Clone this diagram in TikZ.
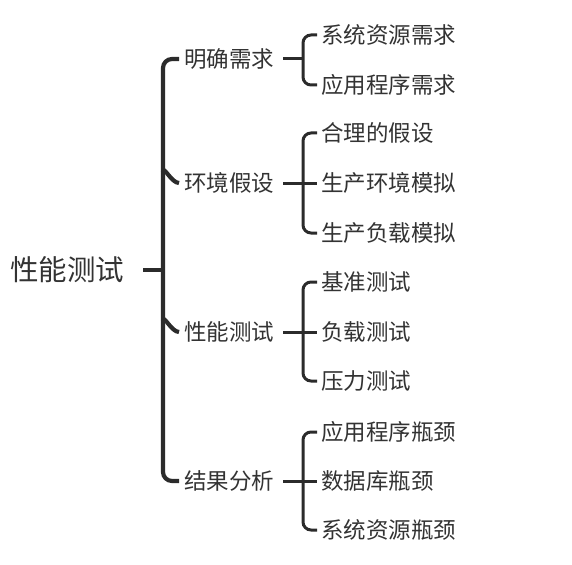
\documentclass[tikz,border=0pt]{standalone}
\usepackage{fontspec}
\setmainfont{Noto Sans CJK SC}
\definecolor{ink}{HTML}{2B2B2B}
\definecolor{txt}{HTML}{333333}
\begin{document}
\begin{tikzpicture}[x=1pt,y=-1pt,
  rootlbl/.style={anchor=west,inner sep=0pt,text=txt,font=\fontsize{28.5}{30}\selectfont},
  lvlone/.style={anchor=west,inner sep=0pt,text=txt,font=\fontsize{22.5}{24}\selectfont},
  lvltwo/.style={anchor=west,inner sep=0pt,text=txt,font=\fontsize{22.5}{24}\selectfont},
  thickln/.style={draw=ink,line width=4.2pt,rounded corners=9pt},
  thinln/.style={draw=ink,line width=3pt,rounded corners=8pt}]
\useasboundingbox (0,0) rectangle (572,564);
% root
\node[rootlbl] (root) at (10,270) {性能测试};
\coordinate (rs) at (143,270);
\coordinate (rv) at (163,270);
\draw[thickln] (rs) -- (rv);
% level one labels
\node[lvlone] (a) at (184,59) {明确需求};
\node[lvlone] (b) at (184,183) {环境假设};
\node[lvlone] (c) at (184,332) {性能测试};
\node[lvlone] (d) at (184,481) {结果分析};
% root bracket
\coordinate (ta) at (179,59);
\coordinate (td) at (179,481);
\draw[thickln] (ta) -- (163,59) -- (163,481) -- (td);
\coordinate (tb) at (179,183);
\coordinate (tc) at (179,332);
\draw[draw=ink,line width=4.2pt] (163,172) to[out=90,in=180,looseness=1] (tb);
\draw[draw=ink,line width=4.2pt] (163,321) to[out=90,in=180,looseness=1] (tc);
% level two labels
\node[lvltwo] (a1) at (321,35) {系统资源需求};
\node[lvltwo] (a2) at (321,85) {应用程序需求};
\node[lvltwo] (b1) at (321,133) {合理的假设};
\node[lvltwo] (b2) at (321,183) {生产环境模拟};
\node[lvltwo] (b3) at (321,233) {生产负载模拟};
\node[lvltwo] (c1) at (321,282) {基准测试};
\node[lvltwo] (c2) at (321,332) {负载测试};
\node[lvltwo] (c3) at (321,381) {压力测试};
\node[lvltwo] (d1) at (321,432) {应用程序瓶颈};
\node[lvltwo] (d2) at (321,481) {数据库瓶颈};
\node[lvltwo] (d3) at (321,530) {系统资源瓶颈};
% level two brackets
\draw[thinln] ([xshift=9pt]a.east) -- (303,59);
\draw[thinln] ([xshift=-4pt]a1.west) -- (303,35) -- (303,85) -- ([xshift=-4pt]a2.west);
\draw[thinln] ([xshift=9pt]b.east) -- ([xshift=-4pt]b2.west);
\draw[thinln] ([xshift=-4pt]b1.west) -- (303,133) -- (303,233) -- ([xshift=-4pt]b3.west);
\draw[thinln] ([xshift=9pt]c.east) -- ([xshift=-4pt]c2.west);
\draw[thinln] ([xshift=-4pt]c1.west) -- (303,282) -- (303,381) -- ([xshift=-4pt]c3.west);
\draw[thinln] ([xshift=9pt]d.east) -- ([xshift=-4pt]d2.west);
\draw[thinln] ([xshift=-4pt]d1.west) -- (303,432) -- (303,530) -- ([xshift=-4pt]d3.west);
\end{tikzpicture}
\end{document}
